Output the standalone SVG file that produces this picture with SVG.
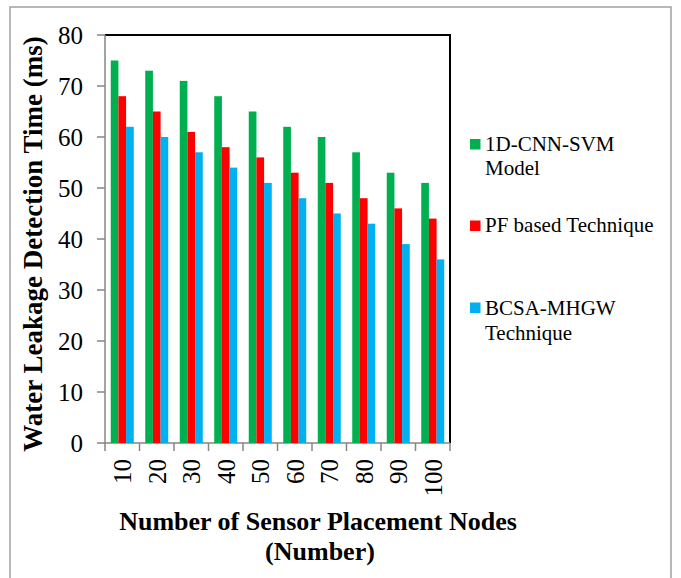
<svg xmlns="http://www.w3.org/2000/svg" width="681" height="578" viewBox="0 0 681 578">
<style>
.g{fill:#00B050}.r{fill:#FF0000}.b{fill:#00B0F0}
.ax{stroke:#868686;stroke-width:1.5;fill:none}
.fr{stroke:#000;stroke-width:2;fill:none}
text{font-family:'Liberation Serif','Times New Roman',Times,serif;fill:#000}
.tk{font-size:25px}
.lg{font-size:21px}
.tt{font-size:26px;font-weight:bold}
</style>
<rect x="10" y="7" width="661" height="576" fill="#fff" stroke="#A0A0A0" stroke-width="1.5"/>
<g id="frame">
<polyline class="fr" points="105,35 450,35 450,443"/>
<path class="ax" d="M105,35V443H450M97,35H105M97,86H105M97,137H105M97,188H105M97,239H105M97,290H105M97,341H105M97,392H105M97,443H105M105,443V451M139.5,443V451M174,443V451M208.5,443V451M243,443V451M277.5,443V451M312,443V451M346.5,443V451M381,443V451M415.5,443V451M450,443V451"/>
</g>
<g id="bars">
<rect class="g" x="110.75" y="60.5" width="7.67" height="382.5"/><rect class="r" x="118.42" y="96.2" width="7.67" height="346.8"/><rect class="b" x="126.08" y="126.8" width="7.67" height="316.2"/>
<rect class="g" x="145.25" y="70.7" width="7.67" height="372.3"/><rect class="r" x="152.92" y="111.5" width="7.67" height="331.5"/><rect class="b" x="160.58" y="137" width="7.67" height="306"/>
<rect class="g" x="179.75" y="80.9" width="7.67" height="362.1"/><rect class="r" x="187.42" y="131.9" width="7.67" height="311.1"/><rect class="b" x="195.08" y="152.3" width="7.67" height="290.7"/>
<rect class="g" x="214.25" y="96.2" width="7.67" height="346.8"/><rect class="r" x="221.92" y="147.2" width="7.67" height="295.8"/><rect class="b" x="229.58" y="167.6" width="7.67" height="275.4"/>
<rect class="g" x="248.75" y="111.5" width="7.67" height="331.5"/><rect class="r" x="256.42" y="157.4" width="7.67" height="285.6"/><rect class="b" x="264.08" y="182.9" width="7.67" height="260.1"/>
<rect class="g" x="283.25" y="126.8" width="7.67" height="316.2"/><rect class="r" x="290.92" y="172.7" width="7.67" height="270.3"/><rect class="b" x="298.58" y="198.2" width="7.67" height="244.8"/>
<rect class="g" x="317.75" y="137" width="7.67" height="306"/><rect class="r" x="325.42" y="182.9" width="7.67" height="260.1"/><rect class="b" x="333.08" y="213.5" width="7.67" height="229.5"/>
<rect class="g" x="352.25" y="152.3" width="7.67" height="290.7"/><rect class="r" x="359.92" y="198.2" width="7.67" height="244.8"/><rect class="b" x="367.58" y="223.7" width="7.67" height="219.3"/>
<rect class="g" x="386.75" y="172.7" width="7.67" height="270.3"/><rect class="r" x="394.42" y="208.4" width="7.67" height="234.6"/><rect class="b" x="402.08" y="244.1" width="7.67" height="198.9"/>
<rect class="g" x="421.25" y="182.9" width="7.67" height="260.1"/><rect class="r" x="428.92" y="218.6" width="7.67" height="224.4"/><rect class="b" x="436.58" y="259.4" width="7.67" height="183.6"/>
</g>
<g id="yticks" text-anchor="end">
<text class="tk" x="83" y="44">80</text><text class="tk" x="83" y="95">70</text><text class="tk" x="83" y="146">60</text><text class="tk" x="83" y="197">50</text><text class="tk" x="83" y="248">40</text><text class="tk" x="83" y="299">30</text><text class="tk" x="83" y="350">20</text><text class="tk" x="83" y="401">10</text><text class="tk" x="83" y="452">0</text>
</g>
<g id="xticks" text-anchor="end">
<text class="tk" transform="translate(131.25,459) rotate(-90)">10</text>
<text class="tk" transform="translate(165.75,459) rotate(-90)">20</text>
<text class="tk" transform="translate(200.25,459) rotate(-90)">30</text>
<text class="tk" transform="translate(234.75,459) rotate(-90)">40</text>
<text class="tk" transform="translate(269.25,459) rotate(-90)">50</text>
<text class="tk" transform="translate(303.75,459) rotate(-90)">60</text>
<text class="tk" transform="translate(338.25,459) rotate(-90)">70</text>
<text class="tk" transform="translate(372.75,459) rotate(-90)">80</text>
<text class="tk" transform="translate(407.25,459) rotate(-90)">90</text>
<text class="tk" transform="translate(441.75,459) rotate(-90)">100</text>
</g>
<g id="ytitle"><text class="tt" text-anchor="middle" transform="translate(42,244) rotate(-90)" style="font-size:27px">Water Leakage Detection Time (ms)</text></g>
<g id="xtitle" text-anchor="middle">
<text class="tt" x="318" y="530">Number of Sensor Placement Nodes</text>
<text class="tt" x="320" y="560">(Number)</text>
</g>
<g id="legend">
<rect class="g" x="470" y="139" width="10.5" height="10.5"/><text class="lg" x="485" y="151">1D-CNN-SVM</text><text class="lg" x="485" y="175">Model</text>
<rect class="r" x="470" y="220.5" width="10.5" height="10.5"/><text class="lg" x="485" y="232">PF based Technique</text>
<rect class="b" x="470" y="302.5" width="10.5" height="10.5"/><text class="lg" x="485" y="315">BCSA-MHGW</text><text class="lg" x="485" y="340">Technique</text>
</g>
</svg>
